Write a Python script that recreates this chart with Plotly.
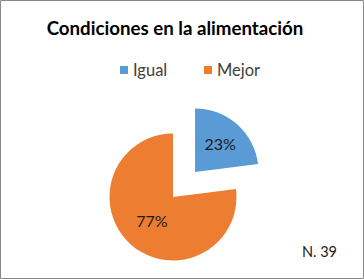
import math
import plotly.graph_objects as go

title = "Condiciones en la alimentación"
labels = ["Igual", "Mejor"]
values = [23, 77]
colors = ["#5B9BD5", "#ED7D31"]
note = "N. 39"

W, H = 364, 279
FONT = "Lato"
cx, cy, r = 173, 197, 63.5   # pie centre and radius in px
pull = 0.525                  # exploded first slice, fraction of radius

total = sum(values)
mid = (values[0] / total) * math.pi   # mid-angle of first slice (clockwise from 12 o'clock)
dx = math.sin(mid) * pull * r
dy = -math.cos(mid) * pull * r


def dom(x, y, rad):
    return dict(x=[(x - rad) / W, (x + rad) / W], y=[(H - y - rad) / H, (H - y + rad) / H])


def px(x):
    return x / W


def py(y):
    return (H - y) / H


clear = "rgba(0,0,0,0)"
common = dict(labels=labels, values=values, sort=False, direction="clockwise", rotation=0,
              hoverinfo="skip", textposition="inside", insidetextorientation="horizontal",
              insidetextfont=dict(family=FONT, size=16, color="#1a1a1a"), showlegend=False)

fig = go.Figure()
# main (orange) part at the pie centre
fig.add_trace(go.Pie(**common, marker=dict(colors=[clear, colors[1]]),
                     texttemplate=["", "%{percent:.0%}"], domain=dom(cx, cy, r)))
# exploded (blue) slice
fig.add_trace(go.Pie(**common, marker=dict(colors=[colors[0], clear]),
                     texttemplate=["%{percent:.0%}", ""], domain=dom(cx + dx, cy + dy, r)))

# legend (square swatch + label) laid out like the original
legend_x = [120, 204]
legend_y = 70
sq = 8
shapes = [dict(type="rect", xref="paper", yref="paper", x0=0.5 / W, x1=1 - 0.5 / W,
               y0=0.5 / H, y1=1 - 0.5 / H, line=dict(color="#878787", width=1))]
annotations = [dict(text=note, x=px(319), y=py(251.5), xref="paper", yref="paper",
                    showarrow=False, xanchor="center", yanchor="middle",
                    font=dict(family=FONT, size=14.5, color="#1a1a1a"))]
for lab, col, lx in zip(labels, colors, legend_x):
    shapes.append(dict(type="rect", xref="paper", yref="paper", x0=px(lx), x1=px(lx + sq),
                       y0=py(legend_y + sq / 2), y1=py(legend_y - sq / 2),
                       fillcolor=col, line=dict(width=0)))
    annotations.append(dict(text=lab, x=px(lx + sq + 3), y=py(legend_y), xref="paper", yref="paper",
                            showarrow=False, xanchor="left", yanchor="middle",
                            font=dict(family=FONT, size=16.5, color="#404040")))

fig.update_layout(
    width=W, height=H,
    margin=dict(l=0, r=0, t=0, b=0),
    paper_bgcolor="white", plot_bgcolor="white",
    title=dict(text=title, x=175 / W, xanchor="center", y=(H - 28) / H, yanchor="middle",
               font=dict(family=FONT, size=18.7, color="#000000", weight="bold")),
    showlegend=False,
    annotations=annotations,
    shapes=shapes,
)

fig.write_html("out.html", config={"displayModeBar": False},
               post_script="document.body.style.margin='0px';")
